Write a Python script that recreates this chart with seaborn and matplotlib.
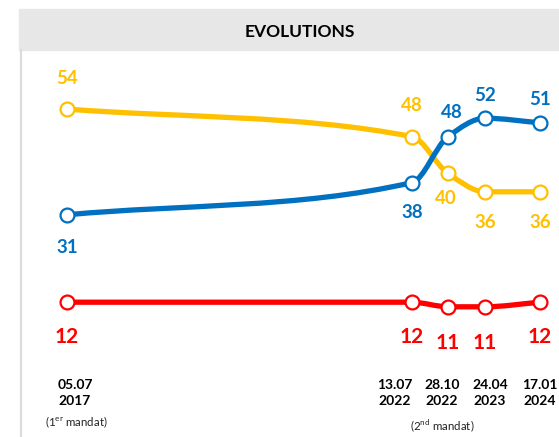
import numpy as np
import pandas as pd
import matplotlib
matplotlib.use("Agg")
import matplotlib.pyplot as plt
from matplotlib.path import Path
from matplotlib.patches import PathPatch, Rectangle
from matplotlib.lines import Line2D
import seaborn as sns

# ---------------- data ----------------
dates = ["05.07\n2017", "13.07\n2022", "28.10\n2022", "24.04\n2023", "17.01\n2024"]
series_yellow = [54, 48, 40, 36, 36]
series_blue = [31, 38, 48, 52, 51]
series_red = [12, 12, 11, 11, 12]
mandats = ["(1$^{\\rm er}$ mandat)", "(2$^{\\rm nd}$ mandat)"]
title = "EVOLUTIONS"

# ---------------- layout (pixel-like horizontal slots) ----------------
xpos = [67, 412, 448, 485, 540]
tick_pos = [75, 395, 442, 490, 540]
mandat_pos = [76, 442]

sns.set_theme(style="white")
plt.rcParams["font.family"] = ["Lato", "DejaVu Sans"]
plt.rcParams["mathtext.fontset"] = "custom"
plt.rcParams["mathtext.rm"] = "Lato"

W, H = 559, 437
fig = plt.figure(figsize=(W / 100, H / 100), dpi=100)
ax = fig.add_axes([0, 1 - 360 / H, 1, (360 - 50) / H])
ax.set_xlim(0, W)
ax.set_ylim(54 - (360 - 109) / 4.6, 54 + (109 - 50) / 4.6)
for s in ax.spines.values():
    s.set_visible(False)
ax.set_yticks([])
ax.set_xticks([])

# header band and left rule
fig.patches.append(Rectangle((19 / W, 1 - 50 / H), 1 - 19 / W, 41 / H,
                             transform=fig.transFigure, color="#E7E7E7", zorder=0))
fig.lines.append(Line2D([21 / W, 21 / W], [0, 1 - 50 / H], transform=fig.transFigure,
                        color="#DCDCDC", lw=1.6))
fig.text(300 / W, 1 - 32 / H, title, ha="center", va="center",
         fontsize=12.5, fontweight="bold", color="black")

YEL, BLU, RED = "#FFC000", "#0070C0", "#FF0000"


def smooth_path(xs, ys):
    """Monotone cubic (PCHIP-like) Bezier path through the given points."""
    xs = np.asarray(xs, float)
    ys = np.asarray(ys, float)
    n = len(xs)
    h = np.diff(xs)
    d = np.diff(ys) / h
    m = np.zeros(n)
    m[0], m[-1] = d[0], d[-1]
    for i in range(1, n - 1):
        if d[i - 1] * d[i] > 0:
            w1 = 2 * h[i] + h[i - 1]
            w2 = h[i] + 2 * h[i - 1]
            m[i] = (w1 + w2) / (w1 / d[i - 1] + w2 / d[i])
        else:
            m[i] = 0.0
    verts = [(xs[0], ys[0])]
    codes = [Path.MOVETO]
    for i in range(n - 1):
        verts += [(xs[i] + h[i] / 3, ys[i] + m[i] * h[i] / 3),
                  (xs[i + 1] - h[i] / 3, ys[i + 1] - m[i + 1] * h[i] / 3),
                  (xs[i + 1], ys[i + 1])]
        codes += [Path.CURVE4] * 3
    return Path(verts, codes)


df = pd.DataFrame({
    "x": xpos * 3,
    "value": series_yellow + series_blue + series_red,
    "serie": ["yellow"] * 5 + ["blue"] * 5 + ["red"] * 5,
})

colors = {"yellow": YEL, "blue": BLU, "red": RED}
for name, c in colors.items():
    sub = df[df.serie == name]
    ax.add_patch(PathPatch(smooth_path(sub.x.values, sub.value.values),
                           fill=False, edgecolor=c, lw=3.8, capstyle="round", zorder=2))
    sns.scatterplot(data=sub, x="x", y="value", color="white", edgecolor=c,
                    linewidth=1.6, s=100, zorder=3, ax=ax, legend=False)

# value labels (offsets in pixels)
yel_off = [(0, 31), (0, 31), (-2, -25), (0, -31), (0, -31)]
blu_off = [(0, -33), (0, -30), (4, 24), (0, 23), (0, 23)]
red_off = [(0, -35), (0, -35), (0, -36), (0, -36), (0, -35)]
for vals, offs, c, fs in [(series_yellow, yel_off, YEL, 13.5),
                          (series_blue, blu_off, BLU, 13.5),
                          (series_red, red_off, RED, 15)]:
    for x, v, o in zip(xpos, vals, offs):
        ax.annotate(str(v), (x, v), xytext=o, textcoords="offset pixels",
                    ha="center", va="center", fontsize=fs, fontweight="bold", color=c)

# date labels
for x, d in zip(tick_pos, dates):
    ax.text(x, 1 - (393 - 50) / 310, d, transform=ax.get_xaxis_transform(),
            ha="center", va="center", fontsize=10, fontweight="bold",
            color="black", linespacing=1.45)
for x, m, yp in zip(mandat_pos, mandats, [422, 426]):
    ax.text(x, 1 - (yp - 50) / 310, m, transform=ax.get_xaxis_transform(),
            ha="center", va="center", fontsize=8.3, color="#222222")

ax.set_xlabel("")
ax.set_ylabel("")
fig.savefig("out.png", dpi=100)
